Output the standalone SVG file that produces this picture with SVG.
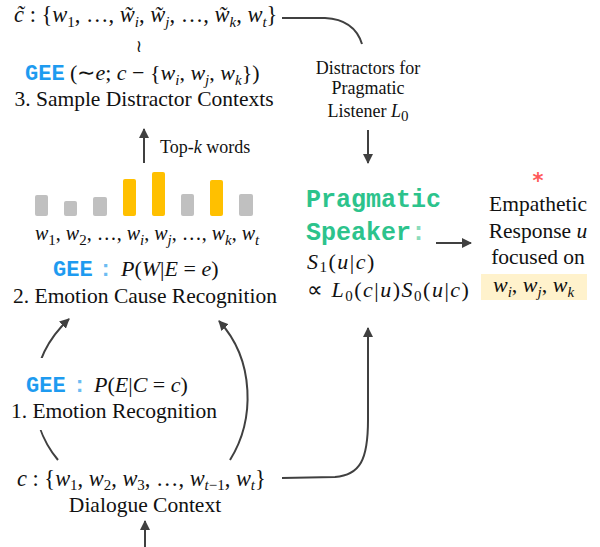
<svg xmlns="http://www.w3.org/2000/svg" width="600" height="547" viewBox="0 0 600 547">
<style>
text{font-family:"Liberation Serif","Times New Roman",serif;fill:#111;}
.t{font-size:21.5px;}
.m{font-size:22px;}
.i{font-style:italic;}
.s{font-size:15px;}
.gee{font-family:"Liberation Mono","Courier New",monospace;font-weight:bold;fill:#1e9bf0;font-size:22px;}
.col{fill:#6cbcf2;}
.ps{font-family:"Liberation Mono","Courier New",monospace;font-weight:bold;fill:#2cc38c;font-size:25px;}
.lab{font-size:18px;}
.c{fill:none;stroke:#404040;stroke-width:2;}
.g{fill:#c0c0c0;}
.y{fill:#ffc000;}
</style>
<defs>
<marker id="ah" viewBox="0 0 10 10" refX="9" refY="5" markerWidth="5" markerHeight="5" orient="auto" markerUnits="strokeWidth">
<path d="M0,0 L10,5 L0,10 z" fill="#404040"/>
</marker>
</defs>

<g id="connectors">
<path class="c" d="M282,18 L325,18 C345,19 357,28 362,44"/>
<path class="c" d="M368,130 L368,163" marker-end="url(#ah)"/>
<path class="c" d="M144,163 L144,129" marker-end="url(#ah)"/>
<path class="c" d="M436,243 L471,243" marker-end="url(#ah)"/>
<path class="c" d="M58,460 C25,420 25,360 69,319" marker-end="url(#ah)"/>
<path class="c" d="M230,460 C255,420 255,360 219,321" marker-end="url(#ah)"/>
<path class="c" d="M282,478 L335,477 C360,475 368,460 368,420 L368,328" marker-end="url(#ah)"/>
<path class="c" d="M145,547 L145,521" marker-end="url(#ah)"/>
</g>

<g id="distractor-contexts">
<text x="14" y="22" style="font-size:22.5px"><tspan class="i">c̃</tspan> : {<tspan class="i">w</tspan><tspan class="s" dy="5">1</tspan><tspan dy="-5">, …, </tspan><tspan class="i">w̃</tspan><tspan class="s i" dy="5">i</tspan><tspan dy="-5">, </tspan><tspan class="i">w̃</tspan><tspan class="s i" dy="5">j</tspan><tspan dy="-5">, …, </tspan><tspan class="i">w̃</tspan><tspan class="s i" dy="5">k</tspan><tspan dy="-5">, </tspan><tspan class="i">w</tspan><tspan class="s i" dy="5">t</tspan><tspan dy="-5">}</tspan></text>
<text x="139" y="52" style="font-family:'DejaVu Sans',sans-serif;font-size:17px" text-anchor="middle">≀</text>
<text x="25" y="80"><tspan class="gee">GEE</tspan><tspan class="m"> (∼</tspan><tspan class="m i">e</tspan><tspan class="m">; </tspan><tspan class="m i">c</tspan><tspan class="m"> − {</tspan><tspan class="m i">w</tspan><tspan class="s i" dy="5">i</tspan><tspan class="m" dy="-5">, </tspan><tspan class="m i">w</tspan><tspan class="s i" dy="5">j</tspan><tspan class="m" dy="-5">, </tspan><tspan class="m i">w</tspan><tspan class="s i" dy="5">k</tspan><tspan class="m" dy="-5">})</tspan></text>
<text class="t" x="144" y="106" text-anchor="middle">3. Sample Distractor Contexts</text>
</g>

<g id="top-k-label">
<text class="lab" x="160" y="153">Top-<tspan class="i">k</tspan> words</text>
</g>

<g id="emotion-cause">
<rect class="g" x="35" y="195" width="13" height="21" rx="2"/>
<rect class="g" x="64" y="201" width="13" height="15" rx="2"/>
<rect class="g" x="93" y="197" width="14" height="19" rx="2"/>
<rect class="y" x="123" y="179" width="13" height="37" rx="2"/>
<rect class="y" x="152" y="172" width="13" height="44" rx="2"/>
<rect class="g" x="181" y="194" width="13" height="22" rx="2"/>
<rect class="y" x="210" y="180" width="13" height="36" rx="2"/>
<rect class="g" x="239" y="194" width="14" height="22" rx="2"/>
<text x="35" y="240" style="font-size:20px"><tspan class="i">w</tspan><tspan class="s" dy="5">1</tspan><tspan dy="-5">, </tspan><tspan class="i">w</tspan><tspan class="s" dy="5">2</tspan><tspan dy="-5">, …, </tspan><tspan class="i">w</tspan><tspan class="s i" dy="5">i</tspan><tspan dy="-5">, </tspan><tspan class="i">w</tspan><tspan class="s i" dy="5">j</tspan><tspan dy="-5">, …, </tspan><tspan class="i">w</tspan><tspan class="s i" dy="5">k</tspan><tspan dy="-5">, </tspan><tspan class="i">w</tspan><tspan class="s i" dy="5">t</tspan></text>
<text x="53" y="276"><tspan class="gee">GEE</tspan><tspan class="gee col" x="99">:</tspan><tspan class="m i" x="121">P</tspan><tspan class="m">(</tspan><tspan class="m i">W</tspan><tspan class="m">|</tspan><tspan class="m i">E</tspan><tspan class="m"> = </tspan><tspan class="m i">e</tspan><tspan class="m">)</tspan></text>
<text class="t" x="145" y="303" text-anchor="middle">2. Emotion Cause Recognition</text>
</g>

<g id="emotion-recognition">
<rect x="15" y="358" width="212" height="72" fill="#fff"/>
<text x="26" y="392"><tspan class="gee">GEE</tspan><tspan class="gee col" x="73">:</tspan><tspan class="m i" x="94">P</tspan><tspan class="m">(</tspan><tspan class="m i">E</tspan><tspan class="m">|</tspan><tspan class="m i">C</tspan><tspan class="m"> = </tspan><tspan class="m i">c</tspan><tspan class="m">)</tspan></text>
<text class="t" x="114" y="418" text-anchor="middle">1. Emotion Recognition</text>
</g>

<g id="dialogue-context">
<text x="17" y="486" style="font-size:22.4px"><tspan class="i">c</tspan> : {<tspan class="i">w</tspan><tspan class="s" dy="4">1</tspan><tspan dy="-4">, </tspan><tspan class="i">w</tspan><tspan class="s" dy="4">2</tspan><tspan dy="-4">, </tspan><tspan class="i">w</tspan><tspan class="s" dy="4">3</tspan><tspan dy="-4">, …, </tspan><tspan class="i">w</tspan><tspan class="s" dy="4"><tspan class="i">t</tspan>−1</tspan><tspan dy="-4">, </tspan><tspan class="i">w</tspan><tspan class="s i" dy="4">t</tspan><tspan dy="-4">}</tspan></text>
<text class="t" x="145" y="512" text-anchor="middle">Dialogue Context</text>
</g>

<g id="distractor-label">
<text class="lab" x="368" y="74" text-anchor="middle">Distractors for</text>
<text class="lab" x="368" y="94" text-anchor="middle">Pragmatic</text>
<text class="lab" x="368" y="117" text-anchor="middle">Listener <tspan class="i">L</tspan><tspan class="s" dy="4">0</tspan></text>
</g>

<g id="pragmatic-speaker">
<text class="ps" x="306" y="207">Pragmatic</text>
<text class="ps" x="306" y="240">Speaker<tspan style="fill:#8adcbc">:</tspan></text>
<text class="m" x="307" y="269" letter-spacing="1.5"><tspan class="i">S</tspan><tspan class="s" dy="3">1</tspan><tspan dy="-3">(</tspan><tspan class="i">u</tspan>|<tspan class="i">c</tspan>)</text>
<text class="m" x="307" y="297" letter-spacing="1.5">∝ <tspan class="i">L</tspan><tspan class="s" dy="4">0</tspan><tspan dy="-4">(</tspan><tspan class="i">c</tspan>|<tspan class="i">u</tspan>)<tspan class="i">S</tspan><tspan class="s" dy="4">0</tspan><tspan dy="-4">(</tspan><tspan class="i">u</tspan>|<tspan class="i">c</tspan>)</text>
</g>

<g id="response">
<text x="538" y="188" text-anchor="middle" style="font-family:'DejaVu Sans',sans-serif;font-size:21px;font-weight:bold;fill:#ff5a5a">*</text>
<text class="t" x="538" y="211" text-anchor="middle">Empathetic</text>
<text class="t" x="538" y="238" text-anchor="middle">Response <tspan class="i">u</tspan></text>
<text class="t" x="538" y="264" text-anchor="middle">focused on</text>
<rect x="481" y="274" width="106" height="26" fill="#fff2cc"/>
<text class="m" x="493" y="292"><tspan class="i">w</tspan><tspan class="s i" dy="5">i</tspan><tspan dy="-5">, </tspan><tspan class="i">w</tspan><tspan class="s i" dy="5">j</tspan><tspan dy="-5">, </tspan><tspan class="i">w</tspan><tspan class="s i" dy="5">k</tspan></text>
</g>
</svg>
